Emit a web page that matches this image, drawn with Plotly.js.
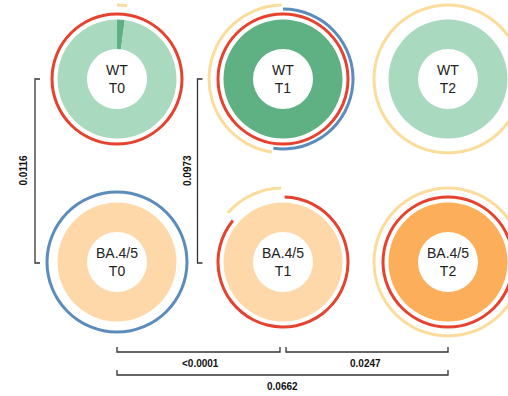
<!DOCTYPE html>
<html>
<head>
<meta charset="utf-8">
<script src="https://cdn.plot.ly/plotly-3.0.1.min.js"></script>
<style>
html,body{margin:0;padding:0;overflow:hidden;background:#fff;}
#chart{width:560px;height:396px;}
</style>
</head>
<body>
<div id="chart"></div>
<script>
// ---- data ----
const groups = ["WT", "WT", "WT", "BA.4/5", "BA.4/5", "BA.4/5"];
const times = ["T0", "T1", "T2", "T0", "T1", "T2"];
// donut composition (fraction of circle), dominant (dark) vs other (light)
const darkShare  = [0.021, 1.0, 0.0, 0.0, 0.0, 1.0];
const lightShare = [0.979, 0.0, 1.0, 1.0, 1.0, 0.0];
// outer arcs: start / end as fraction of circle (null = absent)
const redStart    = [0,     0,     null, null, 0.004, 0];
const redEnd      = [1,     1,     null, null, 0.860, 1];
const blueStart   = [null,  0,     null, 0,    null,  null];
const blueEnd     = [null,  0.522, null, 1,    null,  null];
const yellowStart = [0,     0.524, 0,    null, 0.866, 0];
const yellowEnd   = [0.022, 0.997, 1,    null, 0.996, 1];
// p-values for comparisons
const pLabels = ["0.0116", "0.0973", "<0.0001", "0.0247", "0.0662"];

// ---- styling / layout ----
const W = 560, H = 396, HALF = 76;
const colX = [117, 283, 448];
const rowY = [79, 262];
const darkCol  = {"WT": "#5fb184", "BA.4/5": "#fdae5b"};
const lightCol = {"WT": "#a9d9be", "BA.4/5": "#fed8a9"};
const ringCol = {red: "#e5432f", blue: "#5b8cbc", yellow: "#fbdc9b"};
const ringBase = {red: 63.5, blue: 68.5, yellow: 72.5};
const ringW = 3;
const holeR = 30, donutR = 59.5;

const traces = [];
const layout = {
  width: W, height: H,
  margin: {l: 0, r: 0, t: 0, b: 0},
  paper_bgcolor: "#fff",
  showlegend: false,
  shapes: [], annotations: []
};
const px = x => x / W;
const py = y => 1 - y / H;

for (let i = 0; i < 6; i++) {
  const cx = colX[i % 3], cy = rowY[Math.floor(i / 3)];
  const pid = i === 0 ? "polar" : "polar" + (i + 1);
  layout[pid] = {
    domain: {x: [px(cx - HALF), px(cx + HALF)], y: [py(cy + HALF), py(cy - HALF)]},
    bgcolor: "rgba(0,0,0,0)",
    barmode: "overlay",
    radialaxis: {visible: false, range: [0, HALF]},
    angularaxis: {visible: false, rotation: 90, direction: "clockwise"}
  };
  const th = [], wd = [], bs = [], rr = [], cl = [];
  const add = (s, e, base, thick, col) => {
    if (s === null || e === null || e <= s) return;
    th.push((s + e) / 2 * 360); wd.push((e - s) * 360);
    bs.push(base); rr.push(thick); cl.push(col);
  };
  const g = groups[i];
  add(0, darkShare[i], holeR, donutR - holeR, darkCol[g]);
  add(darkShare[i], darkShare[i] + lightShare[i], holeR, donutR - holeR, lightCol[g]);
  add(redStart[i], redEnd[i], ringBase.red, ringW, ringCol.red);
  add(blueStart[i], blueEnd[i], ringBase.blue, ringW, ringCol.blue);
  add(yellowStart[i], yellowEnd[i], ringBase.yellow, ringW, ringCol.yellow);
  traces.push({
    type: "barpolar", subplot: pid,
    theta: th, width: wd, base: bs, r: rr,
    marker: {color: cl, line: {width: 0}},
    hoverinfo: "skip"
  });
  layout.annotations.push({
    xref: "paper", yref: "paper", x: px(cx), y: py(cy),
    xanchor: "center", yanchor: "middle", showarrow: false,
    text: groups[i] + "<br>" + times[i],
    font: {family: "Liberation Sans, Arial, sans-serif", size: 14, color: "#222"}
  });
}

// brackets
const lineStyle = {color: "#333", width: 1.3};
function pathShape(pts) {
  let d = "";
  pts.forEach((p, k) => { d += (k ? " L " : "M ") + px(p[0]) + " " + py(p[1]); });
  layout.shapes.push({type: "path", xref: "paper", yref: "paper", path: d, line: lineStyle});
}
const tick = 5;
const vX = [35, 197.5];
vX.forEach(x => pathShape([[x + tick, rowY[0]], [x, rowY[0]], [x, rowY[1] + 1], [x + tick, rowY[1] + 1]]));
const bY1 = 352, bY2 = 375;
pathShape([[colX[0], bY1 - tick], [colX[0], bY1], [colX[1] - 3, bY1], [colX[1] - 3, bY1 - tick]]);
pathShape([[colX[1] + 3, bY1 - tick], [colX[1] + 3, bY1], [colX[2], bY1], [colX[2], bY1 - tick]]);
pathShape([[colX[0], bY2 - tick], [colX[0], bY2], [colX[2], bY2], [colX[2], bY2 - tick]]);

const pFont = {family: "Liberation Sans, Arial, sans-serif", size: 10, color: "#111", weight: "bold"};
const midY = (rowY[0] + rowY[1]) / 2;
const pPos = [
  [vX[0] - 12, midY, -90],
  [vX[1] - 10, midY, -90],
  [(colX[0] + colX[1]) / 2, bY1 + 11, 0],
  [(colX[1] + colX[2]) / 2, bY1 + 11, 0],
  [(colX[0] + colX[2]) / 2, bY2 + 11, 0]
];
pLabels.forEach((t, k) => {
  layout.annotations.push({
    xref: "paper", yref: "paper", x: px(pPos[k][0]), y: py(pPos[k][1]),
    xanchor: "center", yanchor: "middle", showarrow: false,
    text: "<b>" + t + "</b>", textangle: pPos[k][2], font: pFont
  });
});

Plotly.newPlot("chart", traces, layout, {displayModeBar: false, staticPlot: true});
</script>
</body>
</html>
